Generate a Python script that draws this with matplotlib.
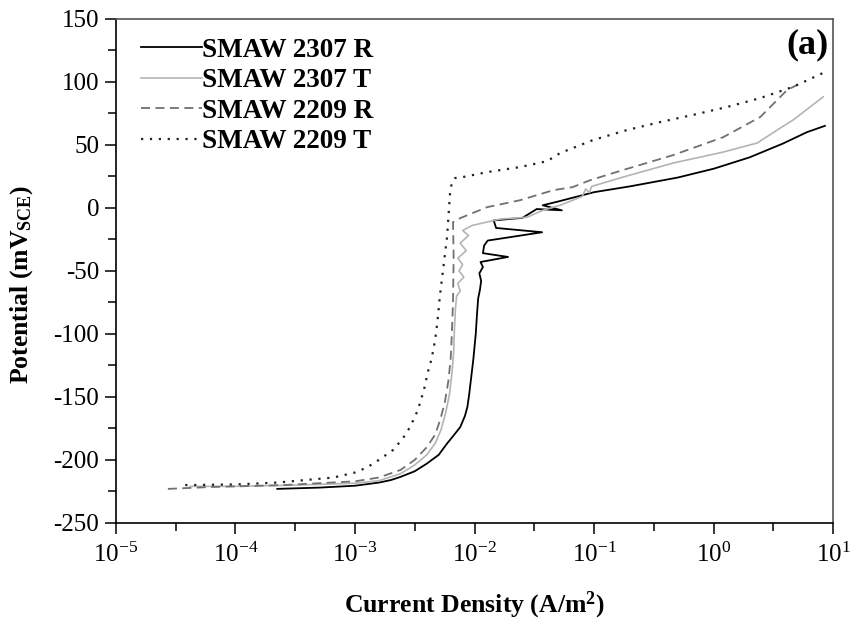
"""Potentiodynamic polarization curves, panel (a)."""

import matplotlib

matplotlib.use("Agg")
import matplotlib.pyplot as plt  # noqa: E402
import numpy as np  # noqa: E402
from matplotlib.ticker import FixedLocator, NullFormatter, MultipleLocator, FuncFormatter  # noqa: E402

plt.rcParams["font.family"] = ["Liberation Serif", "DejaVu Serif"]
plt.rcParams["axes.unicode_minus"] = False
plt.rcParams["mathtext.fontset"] = "custom"
plt.rcParams["mathtext.rm"] = "Liberation Serif"
plt.rcParams["mathtext.bf"] = "Liberation Serif:bold"

# log10 of current density (A/m^2) and potential (mV_SCE)
r2307_logi = [-3.65, -3.3, -3.0, -2.8, -2.7, -2.62, -2.5, -2.4, -2.3, -2.23,
              -2.17, -2.12, -2.08, -2.06, -2.045, -2.03, -2.01, -1.99, -1.98, -1.97,
              -1.955, -1.945, -1.96, -1.93, -1.95, -1.72, -1.93, -1.92, -1.89, -1.435,
              -1.82, -1.84, -1.60, -1.48, -1.27, -1.43, -1.30, -1.0, -0.7, -0.3,
              0.0, 0.3, 0.58, 0.78, 0.93]
r2307_mv = [-223, -222, -220.5, -218, -216, -213.5, -209, -203, -196, -187,
            -180, -174, -165, -158, -148, -136, -120, -100, -85, -72,
            -65, -58, -52, -47, -43, -39, -36, -30, -26, -19.4,
            -16, -10, -8, -1, -2, 2, 5, 12.4, 17, 24,
            31, 40, 51, 60, 65]

t2307_logi = [-4.38, -4.0, -3.5, -3.0, -2.8, -2.62, -2.5, -2.4, -2.33, -2.28,
              -2.24, -2.21, -2.19, -2.175, -2.17, -2.16, -2.15, -2.12, -2.14, -2.09,
              -2.13, -2.10, -2.14, -2.07, -2.12, -2.05, -2.10, -2.02, -1.79, -1.56,
              -1.43, -1.285, -1.10, -1.07, -1.04, -1.02, -0.757, -0.339, 0.079, 0.364,
              0.531, 0.665, 0.916]
t2307_mv = [-221, -221, -220, -218.5, -216.5, -211, -204, -196, -187, -176,
            -162, -148, -132, -115, -100, -80, -70, -66, -60, -55,
            -50, -45, -40, -34, -28, -22, -18, -14, -9, -7.5,
            -2, 2, 9, 15, 12, 17, 24.4, 35.5, 44.2, 51.4,
            61.7, 69.7, 88]

r2209_logi = [-4.565, -4.2, -3.6, -3.0, -2.8, -2.62, -2.5, -2.40, -2.33, -2.29,
              -2.25, -2.22, -2.20, -2.19, -2.18, -2.175, -2.18, -2.12, -1.895, -1.62,
              -1.34, -1.18, -1.03, -0.757, -0.339, 0.079, 0.389, 0.615, 0.699]
r2209_mv = [-223, -221.5, -220, -217, -214, -208, -200, -190, -180, -169,
            -155, -138, -120, -100, -73.5, -40, -11.4, -8.2, 0.5, 6,
            14, 16.4, 22, 30, 41.8, 56, 72, 93.5, 97.5]

t2209_logi = [-4.42, -4.0, -3.65, -3.18, -3.0, -2.9, -2.8, -2.68, -2.6, -2.54,
              -2.49, -2.456, -2.42, -2.39, -2.36, -2.33, -2.31, -2.29, -2.23, -2.205,
              -2.19, -2.163, -2.096, -1.895, -1.62, -1.393, -1.285, -1.008, -0.724, -0.448,
              -0.172, 0.113, 0.389, 0.665, 0.916]
t2209_mv = [-220, -219.5, -218, -214, -210, -206, -200, -192, -183, -174,
            -164, -155, -143, -130, -120, -105, -90, -70, -23, 11.6,
            20, 23.6, 24.4, 28.3, 32.3, 37, 43.4, 53.8, 61.7, 68,
            73.7, 80, 87, 96, 107]

labels = ["SMAW 2307 R", "SMAW 2307 T", "SMAW 2209 R", "SMAW 2209 T"]
x_exponents = [-5, -4, -3, -2, -1, 0, 1]
y_ticks = [-250, -200, -150, -100, -50, 0, 50, 100, 150]


def main() -> None:
    fig = plt.figure(figsize=(8.52, 6.24), dpi=100)
    ax = fig.add_axes([0.136, 0.162, 0.842, 0.808])

    series = [
        (r2307_logi, r2307_mv, dict(color="#000000", lw=1.3, ls="-")),
        (t2307_logi, t2307_mv, dict(color="#b4b4b4", lw=1.2, ls="-")),
        (r2209_logi, r2209_mv, dict(color="#707070", lw=1.3, ls=(0, (5, 3)))),
        (t2209_logi, t2209_mv, dict(color="#222222", lw=1.6, ls=(0, (1, 3)))),
    ]
    for label, (logi, mv, style) in zip(labels, series):
        ax.plot(10.0 ** np.array(logi), mv, label=label, **style)

    ax.set_xscale("log")
    ax.set_xlim(1e-5, 1e1)
    ax.set_ylim(-250, 150)
    ax.xaxis.set_major_locator(FixedLocator([10.0 ** e for e in x_exponents]))
    ax.xaxis.set_minor_locator(FixedLocator([10.0 ** (e + 0.5) for e in x_exponents[:-1]]))
    ax.xaxis.set_minor_formatter(NullFormatter())
    ax.xaxis.set_major_formatter(
        FuncFormatter(lambda v, _: r"$\mathregular{10^{%d}}$" % round(np.log10(v)))
    )
    ax.yaxis.set_major_locator(FixedLocator(y_ticks))
    ax.yaxis.set_minor_locator(MultipleLocator(25))

    ax.tick_params(which="both", direction="out", width=1.1, labelsize=18,
                   top=False, right=False)
    ax.tick_params(which="major", length=8)
    ax.tick_params(which="minor", length=5.5)
    ax.tick_params(axis="x", pad=6)
    ax.tick_params(axis="y", pad=4)
    for spine in ax.spines.values():
        spine.set_linewidth(1.2)
    for side in ("top", "right"):
        ax.spines[side].set_color("#555555")

    ax.set_xlabel(r"Current Density (A/m$\mathregular{^2}$)", fontsize=18.5, fontweight="bold")
    ax.set_ylabel(r"Potential (mV$\mathregular{_{SCE}}$)", fontsize=18.5, fontweight="bold")
    ax.xaxis.set_label_coords(0.5, -0.132)
    ax.yaxis.set_label_coords(-0.113, 0.472)

    ax.text(0.993, 0.948, "(a)", transform=ax.transAxes, ha="right", va="center",
            fontsize=26, fontweight="bold")

    ax.legend(loc="upper left", bbox_to_anchor=(0.035, 0.962), frameon=False,
              handlelength=2.25, handletextpad=0.0, labelspacing=0.2,
              borderpad=0, borderaxespad=0,
              prop={"family": "Liberation Serif", "weight": "bold", "size": 19.5})

    fig.savefig("out.png", dpi=100)
    plt.close(fig)


if __name__ == "__main__":
    main()
